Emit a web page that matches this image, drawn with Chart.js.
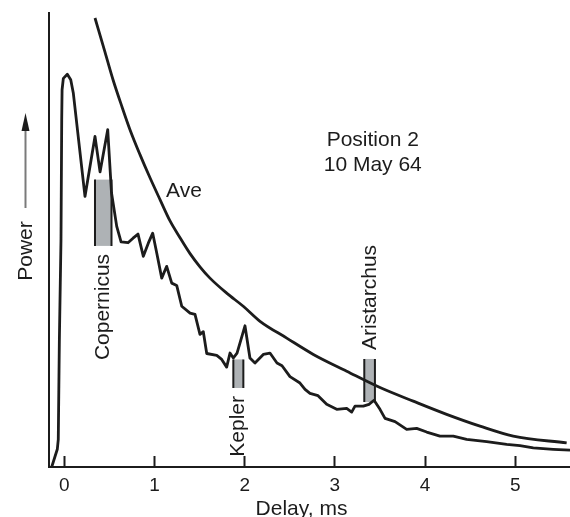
<!DOCTYPE html>
<html>
<head>
<meta charset="utf-8">
<script src="https://cdn.jsdelivr.net/npm/chart.js@4.4.1/dist/chart.umd.min.js"></script>
<style>
  html, body { margin: 0; padding: 0; background: #fff; }
  #wrap { width: 570px; height: 517px; }
</style>
</head>
<body>
<div id="wrap"><canvas id="echo" width="570" height="517"></canvas></div>
<script>
// Radar echo power vs delay, with the averaged curve
const delayEcho = [
  -0.140, -0.078, -0.067, -0.055, -0.037, -0.029, -0.025, -0.011, 0.033, 0.071,
  0.100, 0.229, 0.340, 0.396, 0.481, 0.523, 0.581, 0.629, 0.706, 0.762,
  0.817, 0.876, 0.931, 0.980, 1.028, 1.080, 1.135, 1.191, 1.246, 1.302,
  1.394, 1.449, 1.504, 1.541, 1.579, 1.690, 1.745, 1.800, 1.837, 1.874,
  1.915, 2.003, 2.058, 2.114, 2.206, 2.280, 2.358, 2.414, 2.502, 2.613,
  2.669, 2.724, 2.813, 2.909, 3.020, 3.131, 3.186, 3.223, 3.315, 3.378,
  3.434, 3.500, 3.556, 3.667, 3.796, 3.907, 4.018, 4.165, 4.313, 4.461,
  4.683, 4.905, 5.052, 5.200, 5.421, 5.607,
];
const powerEcho = [
  0, 3.9, 6.1, 28.1, 50.1, 76.5, 83.1, 85.6, 86.5, 85.3,
  82.3, 59.6, 72.8, 65.0, 74.3, 60.4, 53.0, 49.6, 49.4, 50.4,
  51.3, 46.4, 49.3, 51.5, 46.8, 41.6, 44.2, 40.5, 40.0, 35.4,
  33.9, 33.6, 29.2, 29.8, 25.0, 24.6, 23.7, 22.0, 25.1, 24.0,
  25.1, 31.1, 24.0, 22.9, 24.8, 25.1, 22.9, 22.3, 19.9, 18.5,
  17.1, 16.2, 15.7, 13.8, 12.7, 12.9, 12.1, 13.4, 13.4, 13.8,
  14.7, 12.7, 10.7, 10.0, 8.3, 8.5, 7.7, 6.8, 6.8, 6.1,
  5.6, 5.0, 4.7, 4.2, 3.9, 3.7,
];

const delayAve = [
  0.340, 0.451, 0.540, 0.640, 0.728, 0.839, 0.950, 1.061, 1.172, 1.283,
  1.394, 1.504, 1.615, 1.800, 1.984, 2.170, 2.466, 2.761, 3.131, 3.500,
  3.869, 4.239, 4.609, 4.978, 5.570,
];
const powerAve = [
  98.9, 91.4, 85.3, 79.3, 74.3, 68.8, 63.7, 58.9, 54.2, 50.5,
  47.0, 44.1, 41.6, 38.3, 35.4, 32.1, 28.4, 24.8, 21.1, 17.5,
  14.5, 11.6, 9.0, 6.8, 5.3,
];

// crater features: delay span and power span of each shaded bar
const craterNames = ['Copernicus', 'Kepler', 'Aristarchus'];
const craterFrom = [0.340, 1.874, 3.326];
const craterTo = [0.523, 1.985, 3.444];
const craterLow = [48.7, 17.4, 14.3];
const craterHigh = [63.3, 23.7, 23.8];
const craterLabelSide = ['below', 'below', 'above'];

const delayTicks = [0, 1, 2, 3, 4, 5];
const X_MIN = -0.17;
const X_MAX = 5.607;

const INK = '#1c1c1c';
const FONT = '"Liberation Sans", Arial, sans-serif';

const toPoints = (xs, ys) => xs.map((x, i) => ({ x, y: ys[i] }));

function rotatedText(ctx, text, x, y, align) {
  ctx.save();
  ctx.translate(x, y);
  ctx.rotate(-Math.PI / 2);
  ctx.textAlign = align;
  ctx.textBaseline = 'alphabetic';
  ctx.fillText(text, 0, 0);
  ctx.restore();
}

const annotations = {
  id: 'annotations',
  beforeDatasetsDraw(chart) {
    const { ctx, scales: { x, y } } = chart;
    ctx.save();
    craterNames.forEach((name, i) => {
      const x0 = x.getPixelForValue(craterFrom[i]);
      const x1 = x.getPixelForValue(craterTo[i]);
      const top = y.getPixelForValue(craterHigh[i]);
      const bot = y.getPixelForValue(craterLow[i]);
      ctx.fillStyle = '#aeb2b5';
      ctx.fillRect(x0, top, x1 - x0, bot - top);
      ctx.strokeStyle = INK;
      ctx.lineWidth = 2;
      ctx.beginPath();
      ctx.moveTo(x0, top); ctx.lineTo(x0, bot);
      ctx.moveTo(x1, top); ctx.lineTo(x1, bot);
      ctx.stroke();
    });
    ctx.restore();
  },
  afterDraw(chart) {
    const { ctx, scales: { x, y } } = chart;
    ctx.save();
    ctx.fillStyle = INK;
    ctx.font = `21px ${FONT}`;

    craterNames.forEach((name, i) => {
      const cx = (x.getPixelForValue(craterFrom[i]) + x.getPixelForValue(craterTo[i])) / 2 + 6;
      if (craterLabelSide[i] === 'below') {
        rotatedText(ctx, name, cx, y.getPixelForValue(craterLow[i]) + 8, 'right');
      } else {
        rotatedText(ctx, name, cx, y.getPixelForValue(craterHigh[i]) - 9, 'left');
      }
    });

    ctx.textBaseline = 'alphabetic';
    ctx.textAlign = 'left';
    ctx.fillText('Ave', x.getPixelForValue(1.128), y.getPixelForValue(59.4));
    ctx.textAlign = 'center';
    ctx.fillText('Position 2', x.getPixelForValue(3.42), y.getPixelForValue(70.8));
    ctx.fillText('10 May 64', x.getPixelForValue(3.42), y.getPixelForValue(65.3));

    // x axis title
    ctx.fillText('Delay, ms', 301.5, chart.height - 2);

    // y axis title with arrow pointing up
    rotatedText(ctx, 'Power', 31.7, 251, 'center');
    const ax = 25.5;
    ctx.strokeStyle = '#7a7a7a';
    ctx.lineWidth = 2;
    ctx.beginPath();
    ctx.moveTo(ax, 208);
    ctx.lineTo(ax, 128);
    ctx.stroke();
    ctx.fillStyle = INK;
    ctx.beginPath();
    ctx.moveTo(ax, 113);
    ctx.lineTo(ax - 4, 131);
    ctx.lineTo(ax + 4, 131);
    ctx.closePath();
    ctx.fill();
    ctx.restore();
  },
};

new Chart(document.getElementById('echo'), {
  type: 'line',
  data: {
    datasets: [
      {
        label: 'Echo',
        data: toPoints(delayEcho, powerEcho),
        borderColor: INK,
        borderWidth: 2.8,
        pointRadius: 0,
        tension: 0,
        borderJoinStyle: 'round',
      },
      {
        label: 'Ave',
        data: toPoints(delayAve, powerAve),
        borderColor: INK,
        borderWidth: 2.8,
        pointRadius: 0,
        cubicInterpolationMode: 'monotone',
      },
    ],
  },
  options: {
    responsive: false,
    animation: false,
    devicePixelRatio: 1,
    layout: { padding: { top: 13, right: 0, left: 0, bottom: 0 } },
    plugins: { legend: { display: false }, tooltip: { enabled: false } },
    scales: {
      x: {
        type: 'linear',
        min: X_MIN,
        max: X_MAX,
        afterBuildTicks: (scale) => { scale.ticks = delayTicks.map((v) => ({ value: v })); },
        afterFit: (scale) => { scale.height = 50; },
        border: { color: INK, width: 2 },
        grid: { drawOnChartArea: false, drawTicks: true, tickLength: -11, tickColor: INK, tickWidth: 2 },
        ticks: { color: INK, padding: 18, maxRotation: 0, font: { family: FONT, size: 19 } },
      },
      y: {
        min: 0,
        max: 100,
        afterFit: (scale) => { scale.width = 49; },
        border: { color: INK, width: 2 },
        grid: { drawOnChartArea: false, drawTicks: false },
        ticks: { display: false },
      },
    },
  },
  plugins: [annotations],
});
</script>
</body>
</html>
